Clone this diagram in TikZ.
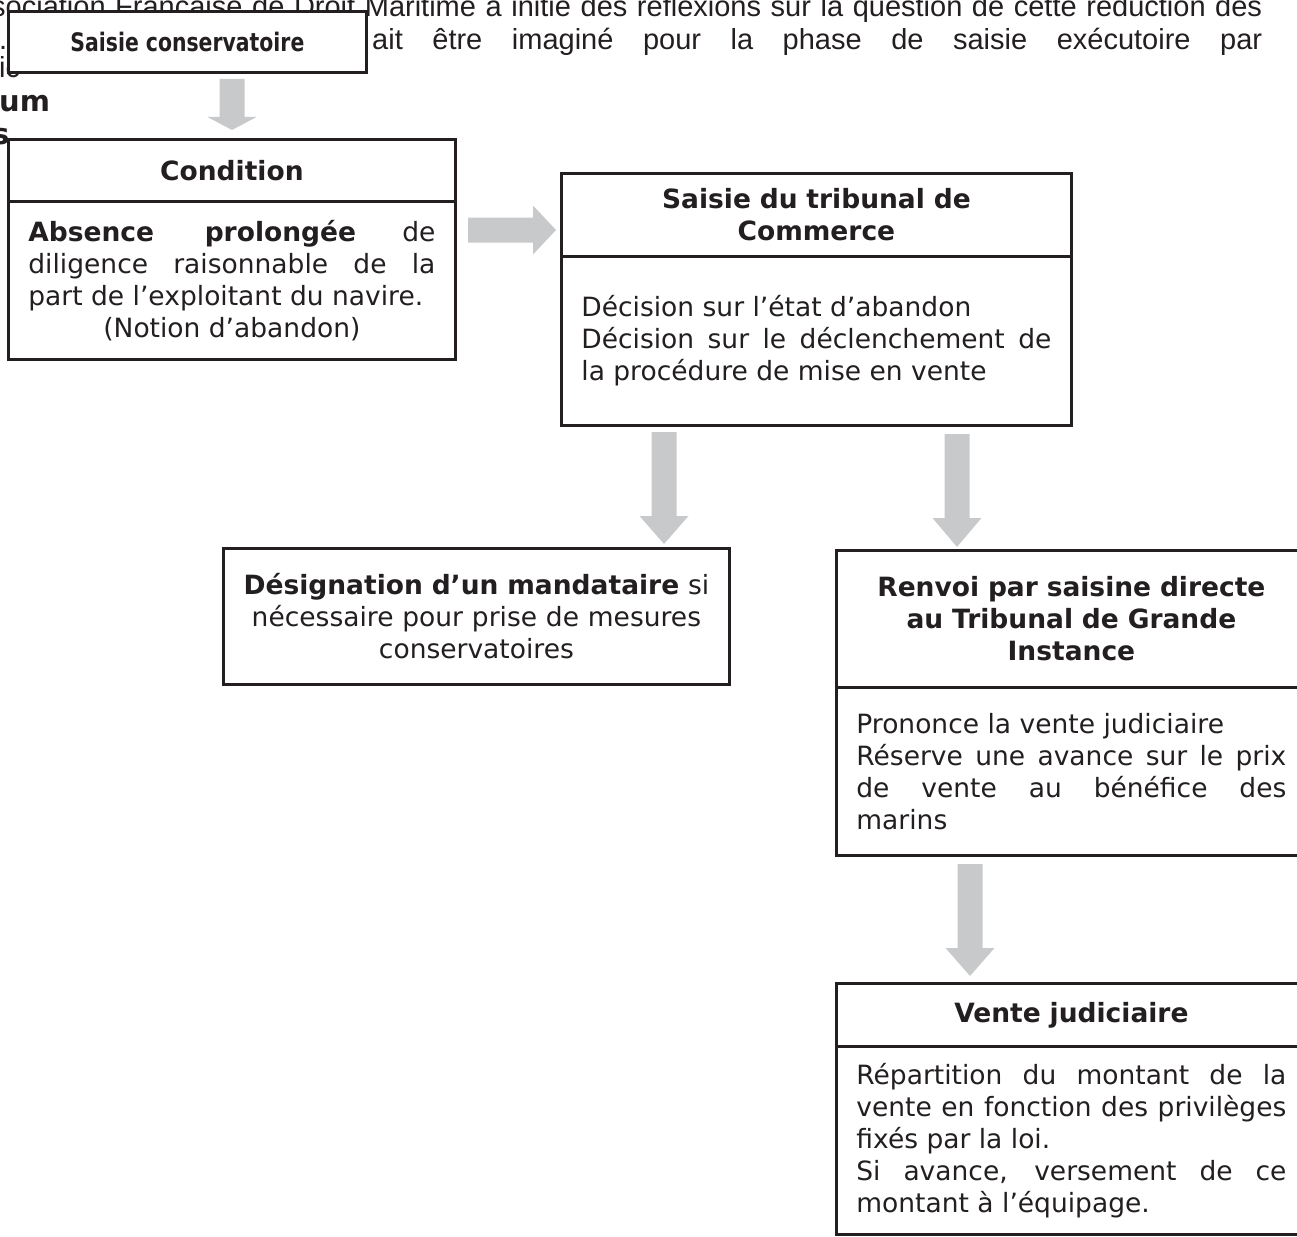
\documentclass[tikz,border=0pt]{standalone}
\usepackage{fontspec}
\setmainfont{DejaVu Sans}
\newfontfamily\bgfont{Liberation Sans}
\usetikzlibrary{calc}
\definecolor{ink}{HTML}{231F20}
\definecolor{arrowgray}{HTML}{C8C9CB}
\hyphenpenalty=10000
\exhyphenpenalty=10000
% vertical block arrow: start, end (tip), head length
\newcommand\myvarrow[3]{%
  \fill[arrowgray] ($(#1)+(-12.5,0)$) -- ($(#2)+(-12.5,-#3)$) -- ($(#2)+(-24.5,-#3)$) -- (#2)
    -- ($(#2)+(24.5,-#3)$) -- ($(#2)+(12.5,-#3)$) -- ($(#1)+(12.5,0)$) -- cycle;}
\newcommand\myharrow[3]{%
  \fill[arrowgray] ($(#1)+(0,-12.5)$) -- ($(#2)+(-#3,-12.5)$) -- ($(#2)+(-#3,-24.5)$) -- (#2)
    -- ($(#2)+(-#3,24.5)$) -- ($(#2)+(-#3,12.5)$) -- ($(#1)+(0,12.5)$) -- cycle;}
\begin{document}
\begin{tikzpicture}[x=1pt,y=-1pt,
  font=\fontsize{26.5}{32}\selectfont,
  box/.style={draw=ink, line width=2.8pt, fill=white, anchor=north west,
    inner sep=0pt, text=ink, align=center},
  head/.style={box, font=\fontsize{26.5}{32}\selectfont\bfseries},
  body/.style={box, align=justify},
  bgtext/.style={inner sep=0pt, anchor=base west, text=ink,
    font=\bgfont\fontsize{29}{33}\selectfont},
  bgbold/.style={inner sep=0pt, anchor=base west, text=ink,
    font=\fontsize{29}{34}\selectfont\bfseries}]
\useasboundingbox (0,0) rectangle (1297,1236);

% background page text (partly hidden)
\node[bgtext] (bg1) at (-9,17) {\makebox[1271pt][s]{sociation Française de Droit Maritime a initié des réflexions sur la question de cette réduction des}};
\node[bgtext] (bg2a) at (-1,50) {.};
\node[bgtext] (bg2) at (372,50) {\makebox[890pt][s]{ait être imaginé pour la phase de saisie exécutoire par}};
\node[bgtext] (bg3) at (-1,78) {ic};
\node[bgbold] (bg4) at (-1,112) {um};
\node[bgbold] (bg5) at (-8,144) {s};

% boxes
\node[head, minimum width=358pt, minimum height=61pt, font=\fontsize{25.5}{30}\selectfont\bfseries] (sc) at (7,10)
  {\scalebox{0.8}[1]{Saisie conservatoire}};

\node[head, minimum width=447pt, minimum height=62pt] (condh) at (7,138) {Condition};
\node[body, minimum width=447pt, minimum height=158pt, text width=407pt] (condb) at (7,200)
  {\textbf{Absence prolongée} de\linebreak diligence raisonnable de la\linebreak part de l’exploitant du navire.\par{\centering (Notion d’abandon)\par}};

\node[head, minimum width=510pt, minimum height=83pt, text width=480pt] (tribh) at (560,172)
  {Saisie du tribunal de\\Commerce};
\node[body, minimum width=510pt, minimum height=169pt, text width=470pt] (tribb) at (560,255)
  {Décision sur l’état d’abandon\par Décision sur le déclenchement de\linebreak la procédure de mise en vente};

\node[box, minimum width=506pt, minimum height=136pt, text width=490pt] (mand) at (222,547)
  {\textbf{Désignation d’un mandataire} si\\nécessaire pour prise de mesures\\conservatoires};

\node[head, minimum width=470pt, minimum height=137pt, text width=450pt] (renh) at (835,549)
  {Renvoi par saisine directe\\au Tribunal de Grande\\Instance};
\node[body, minimum width=470pt, minimum height=168pt, text width=430pt] (renb) at (835,686)
  {Prononce la vente judiciaire\par Réserve une avance sur le prix\linebreak de vente au bénéfice des\linebreak marins};

\node[head, minimum width=470pt, minimum height=63pt, text width=450pt] (venh) at (835,982)
  {Vente judiciaire};
\node[body, minimum width=470pt, minimum height=188pt, text width=430pt] (venb) at (835,1045)
  {Répartition du montant de la\linebreak vente en fonction des privilèges\linebreak fixés par la loi.\par Si avance, versement de ce\linebreak montant à l’équipage.};

% arrows
\coordinate (a1s) at (232,79);  \coordinate (a1e) at (232,130);
\coordinate (a2s) at (468,230); \coordinate (a2e) at (556,230);
\coordinate (a3s) at (664,432); \coordinate (a3e) at (664,544);
\coordinate (a4s) at (957,434); \coordinate (a4e) at (957,547);
\coordinate (a5s) at (970,864); \coordinate (a5e) at (970,976);
\myvarrow{a1s}{a1e}{13}
\myharrow{a2s}{a2e}{23}
\myvarrow{a3s}{a3e}{28}
\myvarrow{a4s}{a4e}{29}
\myvarrow{a5s}{a5e}{28}
\end{tikzpicture}
\end{document}
